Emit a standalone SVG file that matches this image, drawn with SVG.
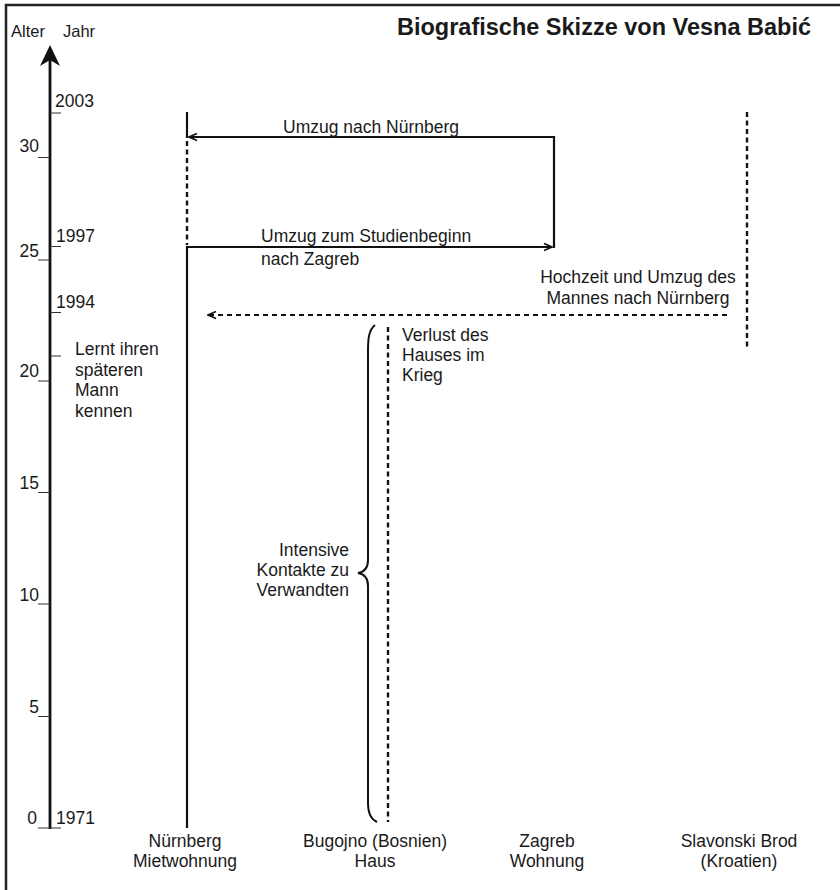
<svg xmlns="http://www.w3.org/2000/svg" width="840" height="890" viewBox="0 0 840 890">
<defs>
<style>
text{font-family:"Liberation Sans",Arial,sans-serif;font-size:17.5px;fill:#1a1a1a}
.title{font-size:23.5px;font-weight:bold}
.small{font-size:16.5px}
.mid{text-anchor:middle}
.end{text-anchor:end}
.tick{stroke:#333;stroke-width:1.2;fill:none}
.solid{stroke:#111;stroke-width:2.2;fill:none}
.dash{stroke:#111;stroke-width:2.2;fill:none;stroke-dasharray:5 4}
.vdash{stroke:#111;stroke-width:2.4;fill:none;stroke-dasharray:5 3.5}
</style>
<marker id="arr" viewBox="0 0 10 10" refX="9" refY="5" markerWidth="10" markerHeight="10" markerUnits="userSpaceOnUse" orient="auto">
<path d="M1,1.5 L9,5 L1,8.5" fill="none" stroke="#111" stroke-width="1.6"/>
</marker>
</defs>
<rect width="840" height="890" fill="#fff"/>
<path d="M6,890 V5 H840" fill="none" stroke="#222" stroke-width="2.5"/>
<text class="title" x="397" y="35">Biografische Skizze von Vesna Babić</text>

<g id="axis">
<line x1="50" y1="829" x2="50" y2="58" stroke="#111" stroke-width="2.8"/>
<path d="M50,45 L60,66 L50,60 L40,66 Z" fill="#111"/>
<text class="small" x="11" y="37">Alter</text>
<text class="small" x="63" y="37">Jahr</text>
<path class="tick" d="M50,113H61 M38,157.5H50 M50,246.5H61 M38,260H50 M50,312.5H61 M50,356H61 M38,381H50 M38,492.5H50 M38,604H50 M38,716.5H50 M38,828H61"/>
<text x="55" y="107">2003</text>
<text class="end" x="39" y="152">30</text>
<text x="56" y="241.5">1997</text>
<text class="end" x="39" y="256.5">25</text>
<text x="56" y="308">1994</text>
<text class="end" x="39" y="377">20</text>
<text class="end" x="39" y="489">15</text>
<text class="end" x="39" y="600.5">10</text>
<text class="end" x="39" y="712.5">5</text>
<text class="end" x="37" y="824">0</text>
<text x="56" y="824">1971</text>
</g>

<g id="note-mann">
<text x="75" y="355">Lernt ihren</text>
<text x="75" y="375.5">späteren</text>
<text x="75" y="396">Mann</text>
<text x="75" y="416.5">kennen</text>
</g>

<g id="nuernberg">
<line class="solid" x1="187" y1="112" x2="187" y2="138"/>
<line class="vdash" x1="187" y1="141" x2="187" y2="245"/>
<line class="solid" x1="187" y1="246" x2="187" y2="828"/>
<text class="mid" x="185" y="847">Nürnberg</text>
<text class="mid" x="185" y="867">Mietwohnung</text>
</g>

<g id="bugojno">
<line class="vdash" x1="388" y1="327" x2="388" y2="822"/>
<path d="M375,325 C369,330 368,338 368,350 L368,560 C368,568 364,572 358,573 C364,574 368,578 368,586 L368,802 C368,814 371,819 377,822" fill="none" stroke="#111" stroke-width="2"/>
<text x="402" y="341">Verlust des</text>
<text x="402" y="361">Hauses im</text>
<text x="402" y="381">Krieg</text>
<text class="end" x="349" y="556">Intensive</text>
<text class="end" x="349" y="576">Kontakte zu</text>
<text class="end" x="349" y="596">Verwandten</text>
<text class="mid" x="375" y="847">Bugojno (Bosnien)</text>
<text class="mid" x="375" y="867">Haus</text>
</g>

<g id="zagreb">
<line class="solid" x1="554" y1="136" x2="554" y2="248"/>
<text class="mid" x="547" y="847">Zagreb</text>
<text class="mid" x="547" y="867">Wohnung</text>
</g>

<g id="slavonski-brod">
<line class="vdash" x1="747" y1="112" x2="747" y2="350"/>
<text class="mid" x="739" y="847">Slavonski Brod</text>
<text class="mid" x="739" y="867">(Kroatien)</text>
</g>

<g id="connectors">
<line class="solid" x1="554" y1="137" x2="189" y2="137" marker-end="url(#arr)"/>
<text x="283" y="133">Umzug nach Nürnberg</text>
<line class="solid" x1="187" y1="247" x2="552" y2="247" marker-end="url(#arr)"/>
<text x="261" y="241.5">Umzug zum Studienbeginn</text>
<text x="261" y="265">nach Zagreb</text>
<line class="dash" x1="727" y1="315" x2="208" y2="315" marker-end="url(#arr)"/>
<text class="mid" x="638" y="283">Hochzeit und Umzug des</text>
<text class="mid" x="638" y="303.5">Mannes nach Nürnberg</text>
</g>
</svg>
